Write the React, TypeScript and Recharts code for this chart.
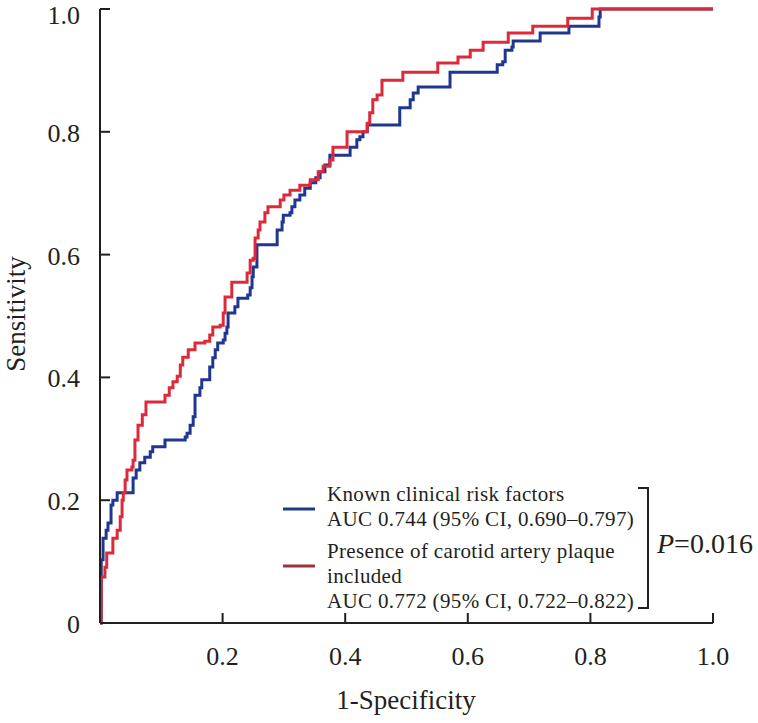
import React from "react";
import { LineChart, Line, XAxis, YAxis } from "recharts";

// ROC step points: fpr = 1-Specificity, tpr = Sensitivity (point = where a rise happens, value after rise)
const knownFpr = [0, 0.002, 0.005, 0.010, 0.013, 0.018, 0.021, 0.028, 0.054, 0.059, 0.065, 0.073, 0.082, 0.086, 0.106, 0.139, 0.142, 0.147, 0.152, 0.155, 0.163, 0.166, 0.179, 0.184, 0.188, 0.192, 0.201, 0.204, 0.207, 0.209, 0.220, 0.225, 0.241, 0.245, 0.248, 0.250, 0.256, 0.289, 0.297, 0.299, 0.310, 0.313, 0.318, 0.326, 0.334, 0.343, 0.352, 0.359, 0.367, 0.375, 0.408, 0.419, 0.424, 0.429, 0.436, 0.489, 0.506, 0.511, 0.519, 0.571, 0.648, 0.657, 0.661, 0.672, 0.674, 0.718, 0.765, 0.814, 0.816, 1.0];
const knownTpr = [0, 0.103, 0.138, 0.151, 0.163, 0.192, 0.200, 0.212, 0.236, 0.249, 0.261, 0.270, 0.279, 0.287, 0.298, 0.303, 0.309, 0.322, 0.336, 0.371, 0.383, 0.396, 0.417, 0.432, 0.445, 0.456, 0.461, 0.472, 0.482, 0.505, 0.515, 0.529, 0.534, 0.546, 0.564, 0.580, 0.616, 0.640, 0.653, 0.664, 0.668, 0.678, 0.689, 0.697, 0.708, 0.717, 0.725, 0.735, 0.746, 0.762, 0.775, 0.787, 0.792, 0.800, 0.811, 0.839, 0.852, 0.863, 0.873, 0.897, 0.909, 0.914, 0.933, 0.938, 0.948, 0.961, 0.972, 0.987, 1.0, 1.0];

const plaqueFpr = [0, 0.002, 0.008, 0.011, 0.021, 0.028, 0.033, 0.036, 0.038, 0.041, 0.044, 0.052, 0.054, 0.057, 0.062, 0.069, 0.075, 0.106, 0.113, 0.119, 0.126, 0.131, 0.135, 0.144, 0.155, 0.171, 0.179, 0.184, 0.196, 0.201, 0.204, 0.215, 0.240, 0.245, 0.250, 0.253, 0.258, 0.261, 0.269, 0.274, 0.294, 0.300, 0.310, 0.326, 0.343, 0.356, 0.364, 0.375, 0.380, 0.403, 0.436, 0.440, 0.445, 0.452, 0.460, 0.494, 0.551, 0.584, 0.604, 0.625, 0.666, 0.706, 0.763, 0.803, 1.0];
const plaqueTpr = [0, 0.075, 0.091, 0.114, 0.138, 0.151, 0.173, 0.200, 0.212, 0.233, 0.249, 0.254, 0.265, 0.298, 0.322, 0.339, 0.360, 0.371, 0.383, 0.393, 0.402, 0.420, 0.433, 0.445, 0.456, 0.459, 0.469, 0.482, 0.485, 0.505, 0.531, 0.555, 0.570, 0.591, 0.594, 0.627, 0.640, 0.653, 0.668, 0.678, 0.689, 0.697, 0.705, 0.713, 0.722, 0.735, 0.744, 0.754, 0.775, 0.800, 0.814, 0.831, 0.852, 0.860, 0.884, 0.897, 0.912, 0.922, 0.933, 0.946, 0.961, 0.972, 0.985, 1.0, 1.0];

const xTicks = [0.2, 0.4, 0.6, 0.8, 1.0];
const yTicks = [0, 0.2, 0.4, 0.6, 0.8, 1.0];
const xTickLabels = ["0.2", "0.4", "0.6", "0.8", "1.0"];
const yTickLabels = ["0", "0.2", "0.4", "0.6", "0.8", "1.0"];

const seriesNames = ["Known clinical risk factors", "Presence of carotid artery plaque included"];
const knownLegend = ["Known clinical risk factors", "AUC 0.744 (95% CI, 0.690\u20130.797)"];
const plaqueLegend = ["Presence of carotid artery plaque", "included", "AUC 0.772 (95% CI, 0.722\u20130.822)"];

const knownData = knownFpr.map((x, i) => ({ x, y: knownTpr[i] }));
const plaqueData = plaqueFpr.map((x, i) => ({ x, y: plaqueTpr[i] }));

const FONT = "'Liberation Serif', 'Times New Roman', serif";
const INK = "#231f20";
const BLUE = "#1f3790";
const RED = "#dc2a3a";

const XTick = (props: any) => {
  const { x, y, payload } = props;
  const idx = xTicks.indexOf(payload.value);
  return (
    <g>
      <line x1={x} y1={y} x2={x} y2={y - 10} stroke={INK} strokeWidth={2} />
      <text x={x} y={y + 42} textAnchor="middle" fontSize={26} fontFamily={FONT} fill={INK}>
        {idx >= 0 ? xTickLabels[idx] : payload.value}
      </text>
    </g>
  );
};

const YTick = (props: any) => {
  const { x, y, payload } = props;
  const idx = yTicks.indexOf(payload.value);
  const dy = payload.value === 1 ? 15 : 10;
  return (
    <g>
      {payload.value !== 0 && <line x1={x} y1={y} x2={x + 10} y2={y} stroke={INK} strokeWidth={2} />}
      <text x={x - 20} y={y + dy} textAnchor="end" fontSize={26} fontFamily={FONT} fill={INK}>
        {idx >= 0 ? yTickLabels[idx] : payload.value}
      </text>
    </g>
  );
};

export default function App() {
  return (
    <div style={{ position: "absolute", left: 0, top: 0, width: 758, height: 723, background: "#fff" }}>
      <LineChart width={758} height={723} margin={{ top: 9, right: 45, bottom: 0, left: 0 }}>
        <XAxis
          type="number"
          dataKey="x"
          domain={[0, 1]}
          ticks={xTicks}
          height={100}
          tickSize={0}
          tickMargin={0}
          axisLine={{ stroke: INK, strokeWidth: 2 }}
          tickLine={false}
          tick={<XTick />}
          interval={0}
        />
        <YAxis
          type="number"
          dataKey="y"
          domain={[0, 1]}
          ticks={yTicks}
          width={100}
          tickSize={0}
          tickMargin={0}
          axisLine={{ stroke: INK, strokeWidth: 2 }}
          tickLine={false}
          tick={<YTick />}
          interval={0}
        />
        <Line
          name={seriesNames[0]}
          data={knownData}
          dataKey="y"
          type="stepAfter"
          stroke={BLUE}
          strokeWidth={3}
          dot={false}
          activeDot={false}
          isAnimationActive={false}
        />
        <Line
          name={seriesNames[1]}
          data={plaqueData}
          dataKey="y"
          type="stepAfter"
          stroke={RED}
          strokeWidth={3}
          dot={false}
          activeDot={false}
          isAnimationActive={false}
        />
      </LineChart>
      <svg
        width={758}
        height={723}
        style={{ position: "absolute", left: 0, top: 0, pointerEvents: "none" }}
        fontFamily={FONT}
      >
        <text x={25} y={314} transform="rotate(-90, 25, 314)" textAnchor="middle" fontSize={27} fill={INK}>
          Sensitivity
        </text>
        <text x={406} y={709} textAnchor="middle" fontSize={27} fill={INK}>
          1-Specificity
        </text>
        <line x1={283} y1={509} x2={315} y2={509} stroke="#1d3a8a" strokeWidth={3} />
        <line x1={283} y1={566} x2={315} y2={566} stroke="#9e2f3c" strokeWidth={3} />
        <g fontSize={21} fill={INK} letterSpacing={0.35}>
          <text x={327} y={501}>{knownLegend[0]}</text>
          <text x={327} y={526}>{knownLegend[1]}</text>
          <text x={327} y={558}>{plaqueLegend[0]}</text>
          <text x={327} y={583}>{plaqueLegend[1]}</text>
          <text x={327} y={608}>{plaqueLegend[2]}</text>
        </g>
        <polyline points="638,488 648,488 648,608 638,608" fill="none" stroke={INK} strokeWidth={2} />
        <text x={657} y={553} fontSize={28} fill={INK}>
          <tspan fontStyle="italic">P</tspan>
          <tspan>=0.016</tspan>
        </text>
      </svg>
    </div>
  );
}
